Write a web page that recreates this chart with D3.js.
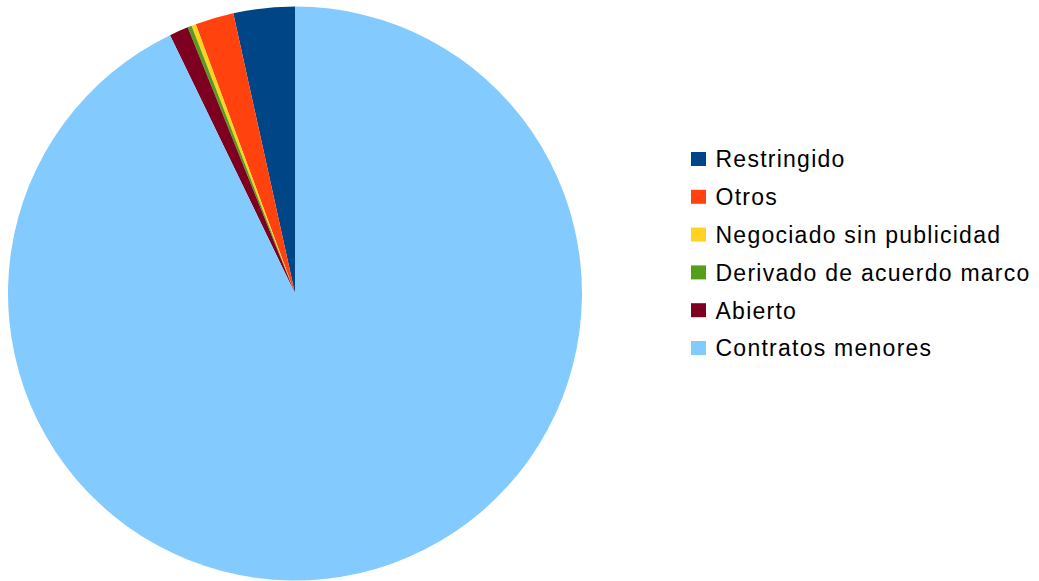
<!DOCTYPE html>
<html><head><meta charset="utf-8">
<script src="https://cdn.jsdelivr.net/npm/d3@7"></script>
<style>body{margin:0;background:#fff;}svg{display:block;}</style>
</head><body>
<svg id="c" width="1039" height="581"></svg>
<script>
const categories = ["Restringido","Otros","Negociado sin publicidad","Derivado de acuerdo marco","Abierto","Contratos menores"];
const values = [3.45, 2.17, 0.25, 0.23, 1.07, 92.83];
const colors = ["#004586","#ff420e","#ffd320","#579d1c","#7e0021","#83caff"];

const svg = d3.select("#c");
const cx = 295, cy = 293.5, r = 287;
const pie = d3.pie().sort(null).startAngle(0).endAngle(-2*Math.PI);
const arc = d3.arc().innerRadius(0).outerRadius(r);
const data = categories.map((c,i)=>({c, v: values[i]}));
svg.append("g").attr("transform",`translate(${cx},${cy})`)
  .selectAll("path").data(pie.value(d=>d.v)(data)).join("path")
  .attr("d", arc).attr("fill", (d,i)=>colors[i]);

const leg = svg.append("g").attr("transform","translate(691,0)");
const y = d3.scalePoint().domain(categories).range([159, 348]);
const items = leg.selectAll("g").data(categories).join("g")
  .attr("transform", d=>`translate(0,${y(d)})`);
items.append("rect").attr("x",0).attr("y",-7).attr("width",15).attr("height",14)
  .attr("fill",(d,i)=>colors[i]);
items.append("text").attr("x",24.5).attr("y",8.3)
  .attr("font-family","Liberation Sans, Arial, sans-serif").attr("font-size",23)
  .attr("letter-spacing","1.25px")
  .attr("fill","#000").text(d=>d);
</script>
</body></html>
